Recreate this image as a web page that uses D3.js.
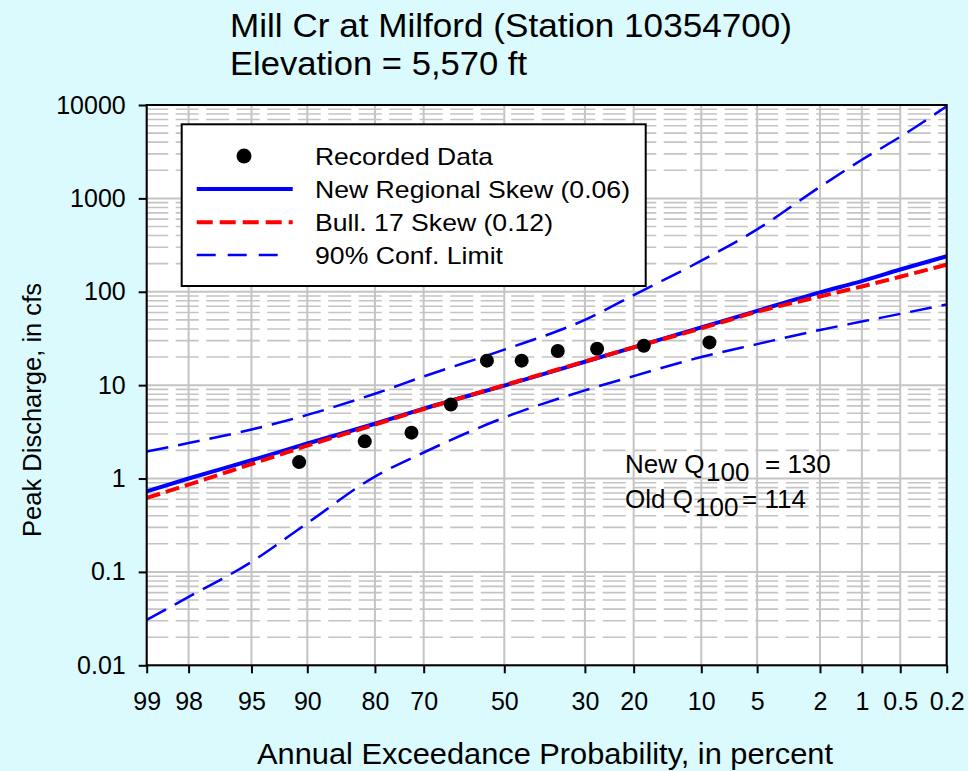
<!DOCTYPE html>
<html>
<head>
<meta charset="utf-8">
<script src="https://cdn.jsdelivr.net/npm/d3@7"></script>
<style>
  html, body { margin: 0; padding: 0; background: #DAFAFD; }
  svg { display: block; font-family: "Liberation Sans", Arial, sans-serif; }
</style>
</head>
<body>
<svg id="chart" width="968" height="771"></svg>
<script>
// ---------------- data ----------------
const titleLines = ["Mill Cr at Milford (Station 10354700)", "Elevation = 5,570 ft"];
const xTitle = "Annual Exceedance Probability, in percent";
const yTitle = "Peak Discharge, in cfs";

const probTicks = [99, 98, 95, 90, 80, 70, 50, 30, 20, 10, 5, 2, 1, 0.5, 0.2];
const probTickLabels = ["99", "98", "95", "90", "80", "70", "50", "30", "20", "10", "5", "2", "1", "0.5", "0.2"];
const yTicks = [0.01, 0.1, 1, 10, 100, 1000, 10000];
const yTickLabels = ["0.01", "0.1", "1", "10", "100", "1000", "10000"];

// recorded annual peaks (plotting positions, percent) and discharge (cfs)
const recordedProb = [90.9, 81.8, 72.7, 63.6, 54.5, 45.5, 36.4, 27.3, 18.2, 9.1];
const recordedQ = [1.5, 2.5, 3.1, 6.2, 18.3, 18.3, 23.2, 24.5, 26.4, 28.7];

// frequency curves evaluated at the probability ticks
const curveProb = [99, 98, 95, 90, 80, 70, 50, 30, 20, 10, 5, 2, 1, 0.5, 0.2];
const newSkewQ = [0.73, 1.0, 1.57, 2.37, 3.86, 5.6, 9.9, 17.8, 25.4, 41.5, 62.4, 98.5, 130, 173, 240];
const bull17Q  = [0.62, 0.86, 1.43, 2.25, 3.78, 5.55, 10.0, 17.9, 25.4, 40.5, 61, 89, 114, 145, 195];
const upperQ   = [1.95, 2.4, 3.35, 4.8, 8.1, 12.4, 24, 50, 92, 215, 465, 1330, 2590, 4560, 9700];
const lowerQ   = [0.0306, 0.054, 0.128, 0.333, 1.05, 1.9, 4.5, 8.8, 12.5, 20, 27.5, 39, 48, 58, 73];

const legendLabels = ["Recorded Data", "New Regional Skew (0.06)", "Bull. 17 Skew (0.12)", "90% Conf. Limit"];
const annotNew = ["New Q", "100", "= 130"];
const annotOld = ["Old Q", "100", "= 114"];

// ---------------- helpers ----------------
// inverse standard normal CDF (Acklam)
function qnorm(p) {
  const a = [-3.969683028665376e+01, 2.209460984245205e+02, -2.759285104469687e+02, 1.383577518672690e+02, -3.066479806614716e+01, 2.506628277459239e+00];
  const b = [-5.447609879822406e+01, 1.615858368580409e+02, -1.556989798598866e+02, 6.680131188771972e+01, -1.328068155288572e+01];
  const c = [-7.784894002430293e-03, -3.223964580411365e-01, -2.400758277161838e+00, -2.549732539343734e+00, 4.374664141464968e+00, 2.938163982698783e+00];
  const d = [7.784695709041462e-03, 3.224671290700398e-01, 2.445134137142996e+00, 3.754408661907416e+00];
  const pl = 0.02425, ph = 1 - pl;
  let q, r;
  if (p < pl) {
    q = Math.sqrt(-2 * Math.log(p));
    return (((((c[0]*q+c[1])*q+c[2])*q+c[3])*q+c[4])*q+c[5]) / ((((d[0]*q+d[1])*q+d[2])*q+d[3])*q+1);
  } else if (p <= ph) {
    q = p - 0.5; r = q * q;
    return (((((a[0]*r+a[1])*r+a[2])*r+a[3])*r+a[4])*r+a[5])*q / (((((b[0]*r+b[1])*r+b[2])*r+b[3])*r+b[4])*r+1);
  } else {
    q = Math.sqrt(-2 * Math.log(1 - p));
    return -(((((c[0]*q+c[1])*q+c[2])*q+c[3])*q+c[4])*q+c[5]) / ((((d[0]*q+d[1])*q+d[2])*q+d[3])*q+1);
  }
}
const zOf = P => qnorm(1 - P / 100);

// ---------------- layout ----------------
const L = 146.7, R = 946.7, T = 105, B = 665.3;
const svg = d3.select("#chart");

const x = d3.scaleLinear().domain([zOf(99), zOf(0.2)]).range([L, R]);
const y = d3.scaleLog().domain([0.01, 10000]).range([B, T]);
const px = P => x(zOf(P));

svg.append("rect").attr("width", 968).attr("height", 771).attr("fill", "#DAFAFD");
svg.append("rect").attr("x", L).attr("y", T).attr("width", R - L).attr("height", B - T).attr("fill", "#ffffff");

// ---------------- grid ----------------
const grid = svg.append("g");
const minors = [];
for (let e = -2; e < 4; e++) for (let m = 2; m <= 9; m++) minors.push(m * Math.pow(10, e));
grid.selectAll("line.minor").data(minors).enter().append("line")
  .attr("x1", L).attr("x2", R).attr("y1", d => y(d)).attr("y2", d => y(d))
  .attr("stroke", "#C4C4C4").attr("stroke-width", 1.6)
  .attr("stroke-dasharray", "23 7.5").attr("stroke-dashoffset", 1.5);
grid.selectAll("line.major").data(yTicks).enter().append("line")
  .attr("x1", L).attr("x2", R).attr("y1", d => y(d)).attr("y2", d => y(d))
  .attr("stroke", "#C4C4C4").attr("stroke-width", 2);
grid.selectAll("line.vert").data(probTicks).enter().append("line")
  .attr("x1", d => px(d)).attr("x2", d => px(d)).attr("y1", T).attr("y2", B)
  .attr("stroke", "#C4C4C4").attr("stroke-width", 2);

// ---------------- curves ----------------
const lineGen = d3.line().x(d => px(d[0])).y(d => y(d[1])).curve(d3.curveMonotoneX);
const series = (qs) => curveProb.map((p, i) => [p, qs[i]]);

const plot = svg.append("g");
plot.append("path").datum(series(upperQ)).attr("d", lineGen)
  .attr("fill", "none").attr("stroke", "#0000FF").attr("stroke-width", 2.5).attr("stroke-dasharray", "22 10");
plot.append("path").datum(series(lowerQ)).attr("d", lineGen)
  .attr("fill", "none").attr("stroke", "#0000FF").attr("stroke-width", 2.5).attr("stroke-dasharray", "22 10");
plot.append("path").datum(series(newSkewQ)).attr("d", lineGen)
  .attr("fill", "none").attr("stroke", "#0000FF").attr("stroke-width", 4);
plot.append("path").datum(series(bull17Q)).attr("d", lineGen)
  .attr("fill", "none").attr("stroke", "#FF0000").attr("stroke-width", 4).attr("stroke-dasharray", "14 6");

plot.selectAll("circle.obs").data(recordedProb.map((p, i) => [p, recordedQ[i]])).enter()
  .append("circle").attr("cx", d => px(d[0])).attr("cy", d => y(d[1])).attr("r", 7).attr("fill", "#000");

// ---------------- frame & axes ----------------
svg.append("rect").attr("x", L).attr("y", T).attr("width", R - L).attr("height", B - T)
  .attr("fill", "none").attr("stroke", "#000").attr("stroke-width", 2);

const yAxis = svg.append("g").attr("transform", `translate(${L},0)`)
  .call(d3.axisLeft(y).tickValues(yTicks).tickFormat((d, i) => yTickLabels[i]).tickSize(8).tickPadding(13));
const xAxis = svg.append("g").attr("transform", `translate(0,${B})`)
  .call(d3.axisBottom(x).tickValues(probTicks.map(zOf)).tickFormat((d, i) => probTickLabels[i]).tickSize(8).tickPadding(19));
[yAxis, xAxis].forEach(g => {
  g.select(".domain").remove();
  g.selectAll(".tick line").attr("stroke", "#000").attr("stroke-width", 2);
  g.selectAll(".tick text").attr("fill", "#000").style("font-size", "25px")
    .style("font-family", '"Liberation Sans", Arial, sans-serif');
});

// ---------------- titles ----------------
svg.append("text").attr("x", 230).attr("y", 37).attr("font-size", 33)
  .attr("textLength", 562).attr("lengthAdjust", "spacingAndGlyphs").text(titleLines[0]);
svg.append("text").attr("x", 230).attr("y", 75).attr("font-size", 33)
  .attr("textLength", 297).attr("lengthAdjust", "spacingAndGlyphs").text(titleLines[1]);

svg.append("text").attr("x", 545).attr("y", 764).attr("font-size", 29).attr("text-anchor", "middle")
  .attr("textLength", 576).attr("lengthAdjust", "spacingAndGlyphs").text(xTitle);
svg.append("text").attr("transform", "translate(41,410) rotate(-90)").attr("font-size", 26)
  .attr("text-anchor", "middle").attr("textLength", 254).attr("lengthAdjust", "spacingAndGlyphs").text(yTitle);

// ---------------- legend ----------------
const lg = svg.append("g");
lg.append("rect").attr("x", 181.7).attr("y", 124.3).attr("width", 464).attr("height", 161.7)
  .attr("fill", "#fff").attr("stroke", "#000").attr("stroke-width", 2);
const rowY = [156, 189, 222.3, 255];
const lgWidths = [178, 315, 238, 188];
lg.append("circle").attr("cx", 244).attr("cy", rowY[0]).attr("r", 7.5).attr("fill", "#000");
lg.append("line").attr("x1", 196.7).attr("x2", 292.7).attr("y1", rowY[1]).attr("y2", rowY[1])
  .attr("stroke", "#0000FF").attr("stroke-width", 4);
lg.append("line").attr("x1", 196.7).attr("x2", 292.7).attr("y1", rowY[2]).attr("y2", rowY[2])
  .attr("stroke", "#FF0000").attr("stroke-width", 4).attr("stroke-dasharray", "16 7");
lg.append("line").attr("x1", 196.7).attr("x2", 282).attr("y1", rowY[3]).attr("y2", rowY[3])
  .attr("stroke", "#0000FF").attr("stroke-width", 2.5).attr("stroke-dasharray", "19 12");
legendLabels.forEach((t, i) => {
  lg.append("text").attr("x", 315).attr("y", rowY[i] + 8.5).attr("font-size", 24)
    .attr("textLength", lgWidths[i]).attr("lengthAdjust", "spacingAndGlyphs").text(t);
});

// ---------------- annotation ----------------
const an = svg.append("g").attr("font-size", 26);
const t1 = an.append("text").attr("y", 473);
t1.append("tspan").attr("x", 625).text(annotNew[0]);
t1.append("tspan").attr("x", 706).attr("dy", 8).text(annotNew[1]);
t1.append("tspan").attr("x", 765).attr("dy", -8).text(annotNew[2]);
const t2 = an.append("text").attr("y", 508);
t2.append("tspan").attr("x", 625).text(annotOld[0]);
t2.append("tspan").attr("x", 695).attr("dy", 8).text(annotOld[1]);
t2.append("tspan").attr("x", 742).attr("dy", -8).text(annotOld[2]);
</script>
</body>
</html>
